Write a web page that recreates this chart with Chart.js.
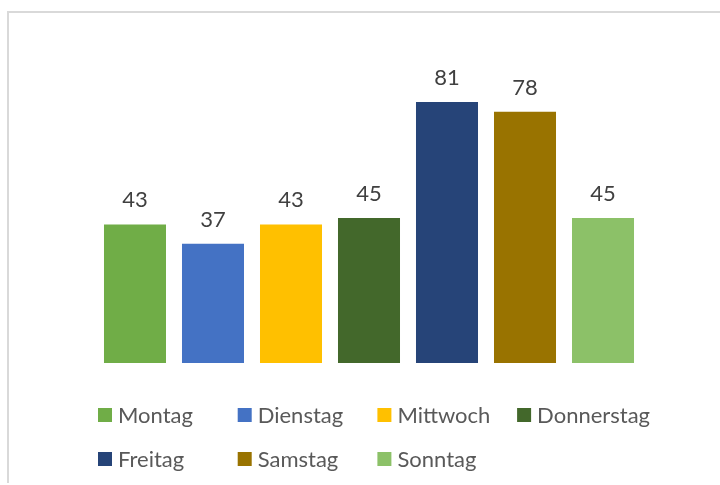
<!DOCTYPE html>
<html>
<head>
<meta charset="utf-8">
<script src="https://cdn.jsdelivr.net/npm/chart.js@4/dist/chart.umd.min.js"></script>
<style>
  html, body { margin: 0; padding: 0; background: #fff; }
  #wrap { width: 720px; height: 485px; position: relative; }
</style>
</head>
<body>
<div id="wrap"><canvas id="chart" width="720" height="485"></canvas></div>
<script>
// Chart data
const categories = [''];
const seriesNames = ['Montag', 'Dienstag', 'Mittwoch', 'Donnerstag', 'Freitag', 'Samstag', 'Sonntag'];
const seriesValues = [43, 37, 43, 45, 81, 78, 45];
const seriesColors = ['#70AD47', '#4472C4', '#FFC000', '#43682B', '#264478', '#997300', '#8CC168'];

const FONT = 'Lato, "Open Sans", sans-serif';

// Frame on the left and top edge (the picture is cropped from a bigger sheet)
const framePlugin = {
    id: 'frame',
    beforeDraw(chart) {
        const ctx = chart.ctx;
        ctx.save();
        ctx.strokeStyle = '#D9D9D9';
        ctx.lineWidth = 2;
        ctx.beginPath();
        ctx.moveTo(8, 483);
        ctx.lineTo(8, 12);
        ctx.lineTo(720, 12);
        ctx.stroke();
        ctx.restore();
    }
};

// Value labels above each bar
const valueLabels = {
    id: 'valueLabels',
    afterDatasetsDraw(chart) {
        const ctx = chart.ctx;
        ctx.save();
        ctx.font = '22px ' + FONT;
        ctx.fillStyle = '#404040';
        ctx.textAlign = 'center';
        ctx.textBaseline = 'alphabetic';
        chart.data.datasets.forEach((ds, i) => {
            const meta = chart.getDatasetMeta(i);
            meta.data.forEach((bar, j) => {
                ctx.fillText(String(ds.data[j]), bar.x, bar.y - 17);
            });
        });
        ctx.restore();
    }
};

// Legend laid out in a grid, like Excel does it
const gridLegend = {
    id: 'gridLegend',
    afterDraw(chart) {
        const ctx = chart.ctx;
        const cols = 4, left = 98, colWidth = 139.7, rowTop = 408, rowHeight = 44, box = 14;
        ctx.save();
        ctx.font = '22px ' + FONT;
        ctx.textBaseline = 'middle';
        ctx.textAlign = 'left';
        chart.data.datasets.forEach((ds, i) => {
            const x = left + (i % cols) * colWidth;
            const y = rowTop + Math.floor(i / cols) * rowHeight;
            ctx.fillStyle = ds.backgroundColor;
            ctx.fillRect(x, y, box, box);
            ctx.fillStyle = '#595959';
            ctx.fillText(ds.label, x + box + 6, y + box / 2 + 1);
        });
        ctx.restore();
    }
};

const datasets = seriesNames.map((name, i) => ({
    label: name,
    data: [seriesValues[i]],
    backgroundColor: seriesColors[i],
    borderWidth: 0,
    categoryPercentage: 0.8298,
    barPercentage: 0.795
}));

new Chart(document.getElementById('chart'), {
    type: 'bar',
    data: { labels: categories, datasets: datasets },
    options: {
        responsive: false,
        animation: false,
        events: [],
        layout: { padding: { left: 40, right: 22, top: 73, bottom: 122 } },
        plugins: {
            legend: { display: false },
            tooltip: { enabled: false }
        },
        scales: {
            x: { display: false },
            y: { display: false, min: 0, max: 90 }
        }
    },
    plugins: [framePlugin, valueLabels, gridLegend]
});
</script>
</body>
</html>
